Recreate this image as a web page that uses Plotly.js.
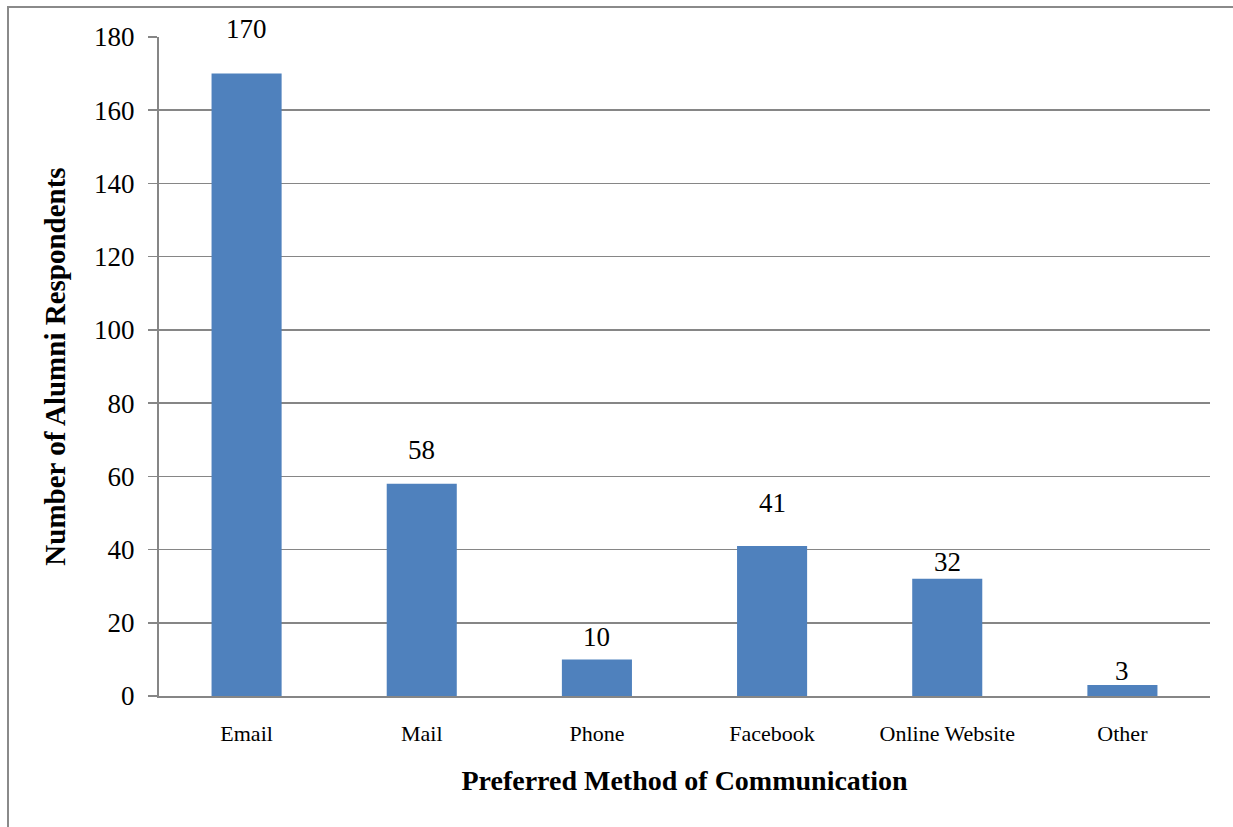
<!DOCTYPE html>
<html>
<head>
<meta charset="utf-8">
<script src="https://cdn.plot.ly/plotly-3.0.1.min.js"></script>
<style>
  html, body { margin: 0; padding: 0; background: #ffffff; overflow: hidden; }
  #frame { position: absolute; left: 7px; top: 6px; width: 1260px; height: 860px; border-left: 2px solid #8a8a8a; border-top: 2px solid #8a8a8a; box-sizing: border-box; }
  #chart { position: absolute; left: 0; top: 0; width: 1233px; height: 827px; }
</style>
</head>
<body>
<div id="frame"></div>
<div id="chart"></div>
<script>
const categories = ["Email", "Mail", "Phone", "Facebook", "Online Website", "Other"];
const respondents = [170, 58, 10, 41, 32, 3];
const yTickValues = [0, 20, 40, 60, 80, 100, 120, 140, 160, 180];

const serif = "Liberation Serif, serif";

const trace = {
  type: "bar",
  x: categories,
  y: respondents,
  marker: { color: "#4F81BD" },
  hoverinfo: "x+y"
};

// pixel lift of each hand-placed data label above its bar (styling only)
const labelLift = [28, 17, 5, 26, 0, -3];

const annotations = categories.map((c, i) => ({
  x: c,
  y: respondents[i],
  xref: "x",
  yref: "y",
  text: String(respondents[i]),
  showarrow: false,
  yanchor: "bottom",
  yshift: labelLift[i],
  font: { family: serif, size: 27, color: "#000000" }
}));

const layout = {
  width: 1233,
  height: 827,
  margin: { l: 159, r: 23, t: 37, b: 131 },
  paper_bgcolor: "rgba(0,0,0,0)",
  plot_bgcolor: "rgba(0,0,0,0)",
  bargap: 0.6,
  showlegend: false,
  font: { family: serif, color: "#000000" },
  xaxis: {
    type: "category",
    showgrid: false,
    showline: true,
    linecolor: "#868686",
    linewidth: 2,
    ticks: "",
    ticklabelstandoff: 17,
    tickfont: { family: serif, size: 22, color: "#000000" },
    title: { text: "<b>Preferred Method of Communication</b>", font: { family: serif, size: 28, color: "#000000" }, standoff: 25 },
    fixedrange: true
  },
  yaxis: {
    range: [0, 180],
    tickvals: yTickValues,
    ticktext: yTickValues.map(String),
    showgrid: true,
    gridcolor: "#868686",
    gridwidth: 1.5,
    zeroline: false,
    showline: true,
    linecolor: "#868686",
    linewidth: 2,
    ticks: "outside",
    ticklen: 9,
    tickwidth: 1.5,
    tickcolor: "#868686",
    ticklabelstandoff: 8,
    tickfont: { family: serif, size: 27, color: "#000000" },
    title: { text: "<b>Number of Alumni Respondents</b>", font: { family: serif, size: 29, color: "#000000" }, standoff: 20 },
    fixedrange: true
  },
  annotations: annotations
};

Plotly.newPlot("chart", [trace], layout, { displayModeBar: false, staticPlot: true });
</script>
</body>
</html>
